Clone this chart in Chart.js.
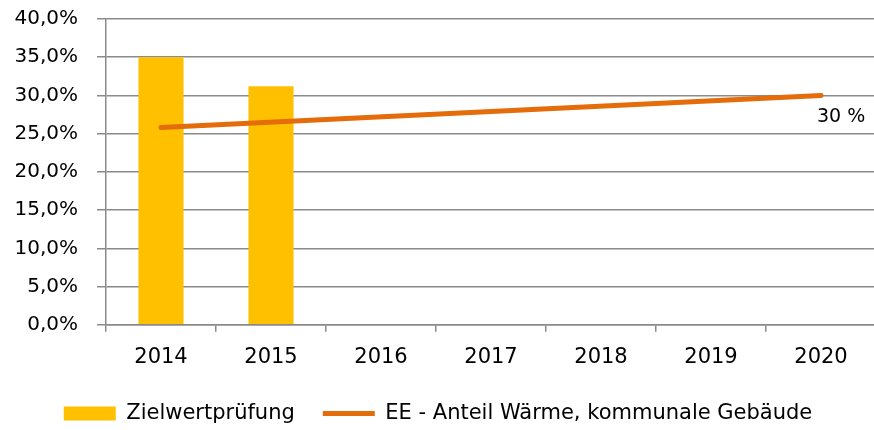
<!DOCTYPE html>
<html>
<head>
<meta charset="utf-8">
<script src="https://cdn.jsdelivr.net/npm/chart.js@4"></script>
<style>
  html, body { margin: 0; padding: 0; background: #fff; overflow: hidden; }
  #wrap { width: 880px; height: 430px; }
</style>
</head>
<body>
<div id="wrap"><canvas id="chart" width="880" height="430"></canvas></div>
<script>
// data
const years = ['2014', '2015', '2016', '2017', '2018', '2019', '2020'];
const zielwert = [35.0, 31.2, null, null, null, null, null];
const eeAnteil = [25.8, null, null, null, null, null, 30.0];
const targetLabel = '30 %';

const FONT = "'DejaVu Sans', sans-serif";
const gray = '#8a8a8a';

// label next to the last point of the line
const endLabel = {
    id: 'endLabel',
    afterDatasetsDraw(chart) {
        let meta = chart.getDatasetMeta(1);
        let pt = meta.data[years.length - 1];
        if (!pt) return;
        let ctx = chart.ctx;
        ctx.save();
        ctx.font = '19px ' + FONT;
        ctx.fillStyle = '#000';
        ctx.textAlign = 'left';
        ctx.textBaseline = 'middle';
        ctx.fillText(targetLabel, pt.x - 4, pt.y + 22);
        ctx.restore();
    }
};

new Chart(document.getElementById('chart'), {
    data: {
        labels: years,
        datasets: [
            {
                type: 'bar',
                label: 'Zielwertprüfung',
                data: zielwert,
                backgroundColor: '#FFC000',
                barPercentage: 0.41,
                categoryPercentage: 1,
                order: 2
            },
            {
                type: 'line',
                label: 'EE - Anteil Wärme, kommunale Gebäude',
                data: eeAnteil,
                borderColor: '#E46C0A',
                backgroundColor: '#E46C0A',
                borderWidth: 5,
                borderCapStyle: 'round',
                pointRadius: 0,
                spanGaps: true,
                order: 1
            }
        ]
    },
    options: {
        responsive: false,
        animation: false,
        layout: { padding: { top: 19, right: 4, left: 0, bottom: -4 } },
        font: { family: FONT },
        scales: {
            x: {
                offset: true,
                grid: { offset: true, drawOnChartArea: false, tickLength: 7, color: gray, lineWidth: 1.5 },
                border: { color: gray, width: 1.5 },
                ticks: { color: '#000', font: { family: FONT, size: 21 }, padding: 13 },
                afterFit: s => { s.height -= 8; }
            },
            y: {
                min: 0,
                max: 40,
                ticks: {
                    stepSize: 5,
                    color: '#000',
                    font: { family: FONT, size: 20 },
                    padding: 19,
                    callback: v => v.toFixed(1).replace('.', ',') + '%'
                },
                grid: { color: gray, lineWidth: 1.5, tickLength: 9 },
                border: { color: gray, width: 1.5 },
                afterFit: s => { s.width = 106; s.paddingTop = 0; s.paddingBottom = 0; }
            }
        },
        plugins: {
            tooltip: { enabled: false },
            legend: {
                position: 'bottom',
                labels: {
                    color: '#000',
                    font: { family: FONT, size: 21 },
                    usePointStyle: true,
                    boxHeight: 14,
                    pointStyleWidth: 52,
                    padding: 28,
                    generateLabels: chart => chart.data.datasets.map((ds, i) => ({
                        text: ds.label,
                        datasetIndex: i,
                        fillStyle: ds.backgroundColor,
                        strokeStyle: ds.type === 'line' ? ds.borderColor : ds.backgroundColor,
                        lineWidth: ds.type === 'line' ? 5 : 0,
                        pointStyle: ds.type === 'line' ? 'line' : 'rect',
                        fontColor: '#000'
                    }))
                }
            }
        }
    },
    plugins: [endLabel]
});
</script>
</body>
</html>
